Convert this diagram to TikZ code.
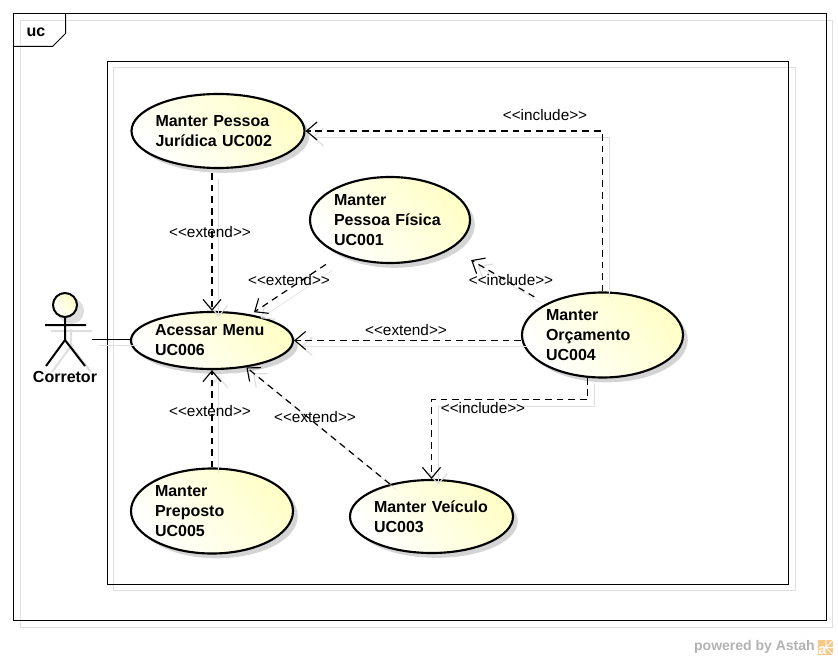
\documentclass[tikz,border=0pt]{standalone}
\usepackage{fontspec}
\setmainfont{Liberation Sans}
\usetikzlibrary{arrows.meta,shadows,calc,shapes.geometric}
\definecolor{castgray}{RGB}{222,222,222}
\definecolor{ucyellow}{RGB}{255,255,200}
\definecolor{astahorange}{RGB}{248,200,135}
\tikzset{
    cast/.style={preaction={draw=castgray,solid,transform canvas={xshift=5pt,yshift=-4.5pt}}},
    ucase/.style n args={2}{ellipse,draw,line width=1.6pt,inner xsep=-1.5pt,inner ysep=0pt,minimum width=#1*0.75pt,minimum height=#2*0.75pt,
        text width=#1*0.75pt-36pt,align=left,font=\fontsize{12}{15}\selectfont\bfseries,
        top color=ucyellow,bottom color=white,shading angle=-50,
        drop shadow={shadow xshift=3.6pt,shadow yshift=-3.6pt,fill=black!17,opacity=1}},
    dep/.style={cast,dashed,dash pattern=on 5pt off 3.7pt,line width=0.9pt,-{Straight Barb[length=8pt,width=13.5pt,line width=0.85pt]}},
    deplabel/.style={font=\fontsize{11.5}{13}\selectfont,inner sep=0pt}
}
\begin{document}
\begin{tikzpicture}[x=0.75pt,y=-0.75pt]
    \useasboundingbox (0,0) rectangle (838,660);
    % frames
    \draw[castgray] (20.5,20.5) rectangle (832.5,627.5);
    \draw[castgray] (113.5,67.5) rectangle (795.5,590.5);
    \draw[line width=0.75pt] (13.5,13.5) rectangle (826.5,620.5);
    \draw[line width=0.75pt] (107.5,61.5) rectangle (788.5,584.5);
    \draw[line width=0.75pt] (13.5,46.5) -- (52.5,46.5) -- (65.5,33.5) -- (65.5,13.5);
    \node[font=\fontsize{12}{14}\selectfont\bfseries,inner sep=0pt] (frametag) at (36,32) {uc};
    % use cases
    \node[ucase={173}{74}] (uc002) at (218,131) {Manter Pessoa\\Jurídica UC002};
    \node[ucase={160}{86}] (uc001) at (390,220) {Manter\\Pessoa Física\\UC001};
    \node[ucase={162}{57}] (uc006) at (212,340.5) {Acessar Menu\\UC006};
    \node[ucase={161}{85}] (uc004) at (602.5,335) {Manter\\Orçamento\\UC004};
    \node[ucase={162}{85}] (uc005) at (212,511) {Manter\\Preposto\\UC005};
    \node[ucase={163}{73}] (uc003) at (431.5,516.5) {Manter Veículo\\UC003};
    % actor
    \begin{scope}[line width=1.5pt]
        \draw[castgray] (71,329) -- (71,346) (51,331) -- (92,331) (71,346) -- (52,372) (71,346) -- (91,372);
        \draw[fill=castgray,draw=castgray] (71,311) circle (12);
        \draw[top color=ucyellow,bottom color=white,shading angle=-50] (65,305) circle (12);
        \draw (65,317) -- (65,340) (45,325) -- (86,325) (65,340) -- (46,366) (65,340) -- (85,366);
    \end{scope}
    \node[font=\fontsize{12}{14}\selectfont\bfseries,inner sep=0pt] (corretor) at (65,377) {Corretor};
    \coordinate (actorhand) at (92,339.5);
    \draw[cast,line width=0.75pt] (actorhand) -- (uc006.west |- actorhand);
    % dependencies
    \draw[dep,shorten <=3pt] (uc002.south -| uc006.north) -- (uc006.north);
    \draw[dep,shorten <=13pt,shorten >=3pt] (uc001.215) -- (uc006.34);
    \draw[dep] (uc006.east -| uc004.west) -- (uc006.east);
    \draw[dep] (uc005.north) -- (uc006.south);
    \draw[dep] (uc003.142) -- (uc006.-38);
    \draw[dep] (uc004.north) -- (uc004.north |- uc002.east) -- (uc002.east);
    \draw[dep,shorten <=10pt,shorten >=17pt] (uc004.151) -- (uc001.-25);
    \coordinate (elbow) at ($(uc004.-109)+(0,22)$);
    \draw[dep] (uc004.-109) -- (elbow) -- (elbow -| uc003.north) -- (uc003.north);
    % labels
    \node[deplabel] (lbl1) at (210,232) {<{}<extend>{}>};
    \node[deplabel] (lbl2) at (289,280) {<{}<extend>{}>};
    \node[deplabel] (lbl3) at (406,330) {<{}<extend>{}>};
    \node[deplabel] (lbl4) at (210,411) {<{}<extend>{}>};
    \node[deplabel] (lbl5) at (315,417) {<{}<extend>{}>};
    \node[deplabel] (lbl6) at (545,115) {<{}<include>{}>};
    \node[deplabel] (lbl7) at (511,280) {<{}<include>{}>};
    \node[deplabel] (lbl8) at (483,408) {<{}<include>{}>};
    % footer
    \node[font=\fontsize{10.5}{12}\selectfont\bfseries,text=black!30,inner sep=0pt,anchor=east] (powered) at (815,647) {powered by Astah};
    \node[fill=astahorange,minimum size=11.25pt,inner sep=0pt,anchor=west] (logo) at (818,647.5) {};
    \draw[white,line width=0.75pt] (logo.center) -- (logo.north) (logo.center) -- (logo.east) (logo.center) -- (logo.north east) (logo.center) -- (logo.south east);
    \node[font=\fontsize{11}{11}\selectfont\bfseries,text=white,inner sep=0pt,anchor=south west] (logoa) at (logo.south west) {a};
\end{tikzpicture}
\end{document}
